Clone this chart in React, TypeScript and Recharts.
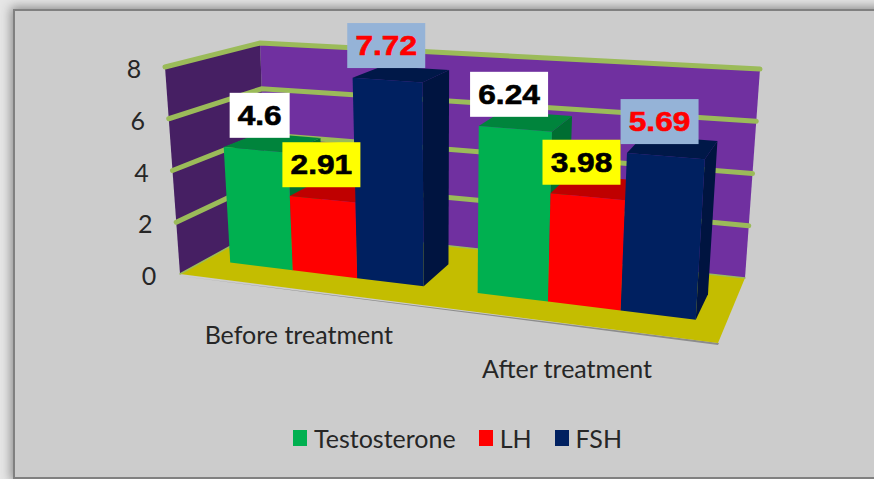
import { Bar, BarChart, Customized, LabelList, Legend, XAxis, YAxis } from 'recharts';

const categories = ['Before treatment', 'After treatment'];
const testosterone = [4.6, 6.24];
const lh = [2.91, 3.98];
const fsh = [7.72, 5.69];
const yTicks = [0, 2, 4, 6, 8];

const data = categories.map((name, i) => ({
  name,
  testosterone: testosterone[i],
  lh: lh[i],
  fsh: fsh[i],
}));

// flat plot rectangle, everything in it gets warped to the 3D box below
const PLOT = { left: 180, right: 718, top: 67, bottom: 274 };

// corners of the 3D box as they appear on screen
const FBL = [180, 274];
const FBR = [718, 343];
const BBL = [267, 226];
const BBR = [745, 278];
const FTL = [165, 67];
const FTR = [732, 108];
const BTL = [260, 43];
const BTR = [760, 69];

const BAR_FRONT = 0.3;
const BAR_BACK = 0.7;
const PERSPECTIVE = 0.887;

const FONT = 'Lato, sans-serif';
const TEXT = '#262626';

const mix = (a: number[], b: number[], t: number) => [a[0] + (b[0] - a[0]) * t, a[1] + (b[1] - a[1]) * t];

function boxPoint(u: number, v: number, w: number) {
  const front = mix(mix(FBL, FBR, u), mix(FTL, FTR, u), v);
  const back = mix(mix(BBL, BBR, u), mix(BTL, BTR, u), v);
  return mix(front, back, w);
}

// flat chart pixel -> screen pixel
function project(x: number, y: number, w: number) {
  const t = (x - PLOT.left) / (PLOT.right - PLOT.left);
  const u = (PERSPECTIVE * t) / (1 + (PERSPECTIVE - 1) * t);
  const v = (PLOT.bottom - y) / (PLOT.bottom - PLOT.top);
  return boxPoint(u, v, w);
}

const pts = (list: number[][]) => list.map((p) => `${p[0]},${p[1]}`).join(' ');

function Backdrop() {
  const max = yTicks[yTicks.length - 1];
  return (
    <g>
      <polygon points={pts([[FBL[0], FBL[1] + 2], [FBR[0], FBR[1] + 2], [FBR[0] + 1, FBR[1]]])} fill="#8c8c8c" />
      <polygon points={pts([BBL, BBR, BTR, BTL])} fill="#7030a0" />
      <polygon points={pts([FBL, BBL, BTL, FTL])} fill="#461f63" />
      <polygon points={pts([FBL, FBR, BBR, BBL])} fill="#c4bd00" />
      {yTicks.map((t) => {
        const v = t / max;
        const width = t === 0 ? 1.5 : 5;
        return (
          <polyline
            key={t}
            points={pts([boxPoint(0, v, 0), boxPoint(0, v, 1), boxPoint(1, v, 1)])}
            fill="none"
            stroke="#9bbb59"
            strokeWidth={width}
            strokeLinecap="round"
          />
        );
      })}
    </g>
  );
}

function makeBarShape(topFill: string, sideFill: string) {
  return function BarShape(props: any) {
    const { x, y, width, height, fill } = props;
    const r = x + width;
    const b = y + height;
    return (
      <g>
        <polygon
          points={pts([project(r, b, BAR_FRONT), project(r, b, BAR_BACK), project(r, y, BAR_BACK), project(r, y, BAR_FRONT)])}
          fill={sideFill}
        />
        <polygon
          points={pts([project(x, y, BAR_FRONT), project(r, y, BAR_FRONT), project(r, y, BAR_BACK), project(x, y, BAR_BACK)])}
          fill={topFill}
        />
        <polygon
          points={pts([project(x, b, BAR_FRONT), project(r, b, BAR_FRONT), project(r, y, BAR_FRONT), project(x, y, BAR_FRONT)])}
          fill={fill}
        />
      </g>
    );
  };
}

function makeValueLabel(boxFill: string, textFill: string) {
  return function ValueLabel(props: any) {
    const { x, y, width, value } = props;
    const p = project(x + width / 2, y, BAR_FRONT);
    const text = String(value);
    const short = text.length <= 3;
    const boxW = short ? 60 : 78;
    // labels were nudged by hand in the original, first group right, second left
    const firstGroup = x < (PLOT.left + PLOT.right) / 2;
    const cx = p[0] + (firstGroup ? (short ? 4 : -1) : -6);
    const cy = p[1] - 34;
    return (
      <g>
        <rect x={cx - boxW / 2} y={cy - 23} width={boxW} height={45} fill={boxFill} />
        <text
          x={cx}
          y={cy + 9}
          textAnchor="middle"
          fontFamily="Liberation Sans, Arial, sans-serif"
          fontWeight={700}
          fontSize={27}
          fill={textFill}
          stroke={textFill}
          strokeWidth={0.6}
          textLength={(text.length - 1) * 17.6 + 8.8}
          lengthAdjust="spacingAndGlyphs"
        >
          {text}
        </text>
      </g>
    );
  };
}

function YTick({ y, payload }: any) {
  const p = project(PLOT.left, y, 0);
  return (
    <text x={p[0] - 31} y={p[1] + 11} textAnchor="middle" fontFamily={FONT} fontSize={25} fill={TEXT}>
      {payload.value}
    </text>
  );
}

function XTick({ x, payload }: any) {
  const p = project(x, PLOT.bottom, 0);
  return (
    <text x={p[0] - 4} y={p[1] + 54} textAnchor="middle" fontFamily={FONT} fontSize={25} fill={TEXT}>
      {payload.value}
    </text>
  );
}

function LegendRow({ payload }: any) {
  return (
    <div style={{ display: 'flex', alignItems: 'center', fontFamily: FONT, fontSize: 25, color: TEXT, lineHeight: '24px' }}>
      {(payload || []).map((entry: any) => (
        <div key={entry.value} style={{ display: 'flex', alignItems: 'center', marginRight: 23 }}>
          <span style={{ width: 14, height: 16, background: entry.color, marginRight: 7 }} />
          <span>{entry.value}</span>
        </div>
      ))}
    </div>
  );
}

export default function App() {
  return (
    <div style={{ position: 'fixed', left: 0, top: 0, width: 874, height: 479, overflow: 'hidden', background: '#e6e6e6' }}>
      <div
        style={{
          position: 'absolute',
          left: 13,
          top: 9,
          width: 880,
          height: 466,
          background: '#cccccc',
          border: '2px solid #808080',
          boxShadow: '0 0 10px 2px #8a8a8a',
        }}
      />
      <div style={{ position: 'absolute', left: 0, top: 0 }}>
        <BarChart
          width={874}
          height={479}
          data={data}
          margin={{ top: PLOT.top, left: PLOT.left - 1, right: 874 - PLOT.right, bottom: 479 - PLOT.bottom - 1 }}
          barGap={0}
          barCategoryGap="10.4%"
        >
          <Customized component={<Backdrop />} />
          <XAxis dataKey="name" height={1} axisLine={false} tickLine={false} interval={0} tick={<XTick />} />
          <YAxis
            width={1}
            domain={[0, 8]}
            ticks={yTicks}
            axisLine={false}
            tickLine={false}
            interval={0}
            tick={<YTick />}
          />
          <Legend
            layout="horizontal"
            verticalAlign="middle"
            align="center"
            itemSorter={null}
            wrapperStyle={{ left: 293, top: 426, width: 400, bottom: 'auto' }}
            content={<LegendRow />}
          />
          <Bar dataKey="testosterone" name="Testosterone" fill="#00b050" shape={makeBarShape('#00843c', '#006e32')} isAnimationActive={false}>
            <LabelList dataKey="testosterone" content={makeValueLabel('#ffffff', '#000000')} />
          </Bar>
          <Bar dataKey="lh" name="LH" fill="#ff0000" shape={makeBarShape('#bf0000', '#a00000')} isAnimationActive={false}>
            <LabelList dataKey="lh" content={makeValueLabel('#ffff00', '#000000')} />
          </Bar>
          <Bar dataKey="fsh" name="FSH" fill="#002060" shape={makeBarShape('#001848', '#001440')} isAnimationActive={false}>
            <LabelList dataKey="fsh" content={makeValueLabel('#95b3d7', '#ff0000')} />
          </Bar>
        </BarChart>
      </div>
    </div>
  );
}
